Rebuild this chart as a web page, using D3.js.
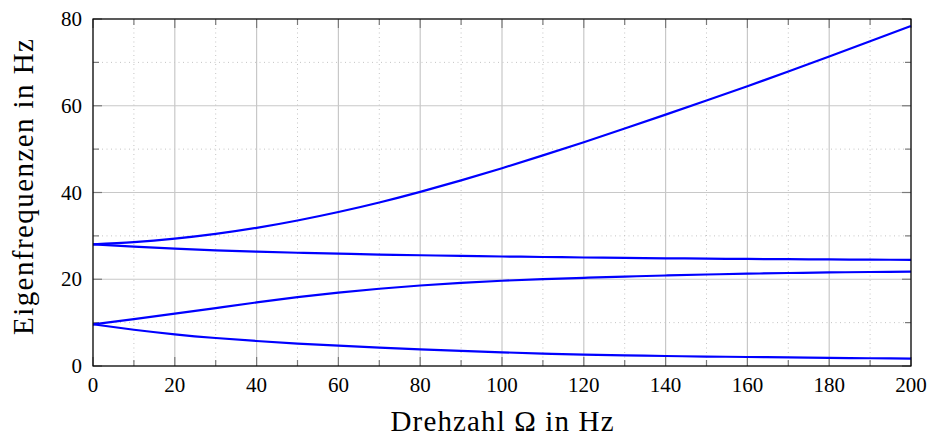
<!DOCTYPE html>
<html lang="de">
  <head>
    <meta charset="UTF-8" />
    <title>Eigenfrequenzen über Drehzahl</title>
    <style>
      body { margin: 0; background: #fff; }
      text { font-family: "Liberation Serif", "DejaVu Serif", serif; fill: #000; }
    </style>
  </head>
  <body>
    <svg width="930" height="437"></svg>

    <script src="https://cdn.jsdelivr.net/npm/d3@7"></script>
    <script>
      // Drehzahl in Hz (Stützstellen)
      const drehzahl = [0, 10, 20, 30, 40, 50, 60, 70, 80, 90, 100, 110, 120, 130, 140, 150, 160, 170, 180, 190, 200];

      // Eigenfrequenzen in Hz
      const mode1 = [9.61, 8.36, 7.31, 6.46, 5.76, 5.18, 4.68, 4.24, 3.84, 3.48, 3.15, 2.86, 2.6, 2.44, 2.3, 2.18, 2.07, 1.97, 1.88, 1.79, 1.7];
      const mode2 = [9.61, 10.81, 12.06, 13.36, 14.66, 15.86, 16.91, 17.81, 18.56, 19.16, 19.66, 20.02, 20.33, 20.61, 20.87, 21.09, 21.28, 21.44, 21.57, 21.67, 21.75];
      const mode3 = [28.05, 27.5, 27.05, 26.68, 26.37, 26.11, 25.89, 25.7, 25.53, 25.38, 25.25, 25.13, 25.02, 24.92, 24.83, 24.75, 24.68, 24.62, 24.57, 24.52, 24.48];
      const mode4 = [28.05, 28.55, 29.35, 30.45, 31.85, 33.55, 35.5, 37.7, 40.15, 42.8, 45.6, 48.55, 51.6, 54.75, 57.95, 61.2, 64.5, 67.9, 71.35, 74.85, 78.4];

      const xTicks = [0, 20, 40, 60, 80, 100, 120, 140, 160, 180, 200];
      const yTicks = [0, 20, 40, 60, 80];
      const xMinor = [10, 30, 50, 70, 90, 110, 130, 150, 170, 190];
      const yMinor = [10, 30, 50, 70];

      const svg = d3.select("svg");
      const pLeft = 93, pRight = 911, pTop = 19, pBottom = 366;

      const x = d3.scaleLinear().domain([0, 200]).range([pLeft, pRight]);
      const y = d3.scaleLinear().domain([0, 80]).range([pBottom, pTop]);

      const g = svg.append("g");

      // minor grid (dotted)
      g.selectAll(".xminor").data(xMinor).enter().append("line")
        .attr("x1", d => x(d)).attr("x2", d => x(d))
        .attr("y1", pTop).attr("y2", pBottom)
        .attr("stroke", "#c4c4c4").attr("stroke-width", 1)
        .attr("stroke-dasharray", "1,3.5");
      g.selectAll(".yminor").data(yMinor).enter().append("line")
        .attr("x1", pLeft).attr("x2", pRight)
        .attr("y1", d => y(d)).attr("y2", d => y(d))
        .attr("stroke", "#c4c4c4").attr("stroke-width", 1)
        .attr("stroke-dasharray", "1,3.5");

      // major grid
      g.selectAll(".xmajor").data(xTicks).enter().append("line")
        .attr("x1", d => x(d)).attr("x2", d => x(d))
        .attr("y1", pTop).attr("y2", pBottom)
        .attr("stroke", "#c8c8c8").attr("stroke-width", 1.2);
      g.selectAll(".ymajor").data(yTicks).enter().append("line")
        .attr("x1", pLeft).attr("x2", pRight)
        .attr("y1", d => y(d)).attr("y2", d => y(d))
        .attr("stroke", "#c8c8c8").attr("stroke-width", 1.2);

      // ticks on all four sides, pointing inward
      const tickCol = "#7a7a7a";
      function xTicksAt(vals, len) {
        g.selectAll(null).data(vals).enter().append("line")
          .attr("x1", d => x(d)).attr("x2", d => x(d))
          .attr("y1", pBottom).attr("y2", pBottom - len)
          .attr("stroke", tickCol).attr("stroke-width", 1.2);
        g.selectAll(null).data(vals).enter().append("line")
          .attr("x1", d => x(d)).attr("x2", d => x(d))
          .attr("y1", pTop).attr("y2", pTop + len)
          .attr("stroke", tickCol).attr("stroke-width", 1.2);
      }
      function yTicksAt(vals, len) {
        g.selectAll(null).data(vals).enter().append("line")
          .attr("x1", pLeft).attr("x2", pLeft + len)
          .attr("y1", d => y(d)).attr("y2", d => y(d))
          .attr("stroke", tickCol).attr("stroke-width", 1.2);
        g.selectAll(null).data(vals).enter().append("line")
          .attr("x1", pRight).attr("x2", pRight - len)
          .attr("y1", d => y(d)).attr("y2", d => y(d))
          .attr("stroke", tickCol).attr("stroke-width", 1.2);
      }
      xTicksAt(xTicks, 9);
      xTicksAt(xMinor, 6);
      yTicksAt(yTicks, 9);
      yTicksAt(yMinor, 6);

      // curves
      const line = d3.line()
        .x((d, i) => x(drehzahl[i]))
        .y(d => y(d))
        .curve(d3.curveNatural);

      [mode1, mode2, mode3, mode4].forEach(s => {
        g.append("path")
          .attr("d", line(s))
          .attr("fill", "none")
          .attr("stroke", "#0000ff")
          .attr("stroke-width", 2.2);
      });

      // frame
      g.append("rect")
        .attr("x", pLeft).attr("y", pTop)
        .attr("width", pRight - pLeft).attr("height", pBottom - pTop)
        .attr("fill", "none").attr("stroke", "#000").attr("stroke-width", 1.2);

      // tick labels
      g.selectAll(".xl").data(xTicks).enter().append("text")
        .attr("x", d => x(d)).attr("y", 392)
        .attr("text-anchor", "middle")
        .style("font-size", "21px")
        .text(d => d);
      g.selectAll(".yl").data(yTicks).enter().append("text")
        .attr("x", pLeft - 11).attr("y", d => y(d) + 7)
        .attr("text-anchor", "end")
        .style("font-size", "21px")
        .text(d => d);

      // axis titles
      svg.append("text")
        .attr("x", (pLeft + pRight) / 2).attr("y", 431)
        .attr("text-anchor", "middle")
        .attr("textLength", 223).attr("lengthAdjust", "spacing")
        .style("font-size", "29px")
        .text("Drehzahl Ω in Hz");
      svg.append("text")
        .attr("transform", "translate(33,187) rotate(-90)")
        .attr("text-anchor", "middle")
        .attr("textLength", 296).attr("lengthAdjust", "spacing")
        .style("font-size", "29px")
        .text("Eigenfrequenzen in Hz");
    </script>
  </body>
</html>
